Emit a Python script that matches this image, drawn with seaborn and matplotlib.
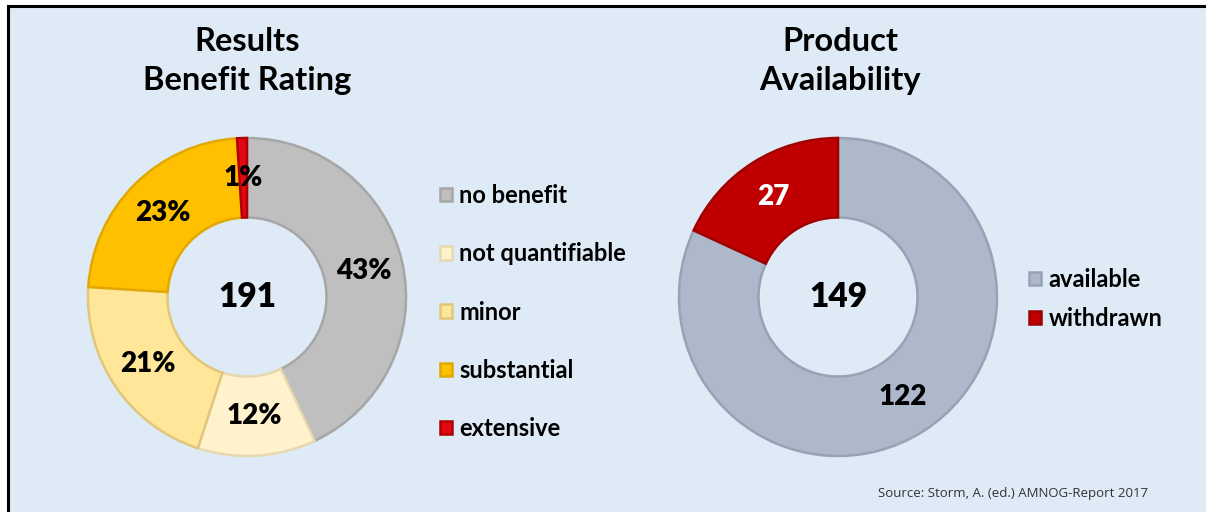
import matplotlib
matplotlib.use("Agg")
import matplotlib.pyplot as plt
from matplotlib.patches import Rectangle
import numpy as np
import seaborn as sns

# ---- data ----
benefit_categories = ["no benefit", "not quantifiable", "minor", "substantial", "extensive"]
benefit_percent = [43, 12, 21, 23, 1]
benefit_total = 191
benefit_colors = ["#BFBFBF", "#FFF2CC", "#FFE699", "#FFC000", "#E30613"]
benefit_edges = ["#A6A6A6", "#E6D9B0", "#E0C77A", "#E0A800", "#B00000"]

avail_categories = ["available", "withdrawn"]
avail_counts = [122, 27]
avail_total = 149
avail_colors = ["#ADB9CA", "#C00000"]
avail_edges = ["#97A3B5", "#A00000"]

titles = ["Results\nBenefit Rating", "Product\nAvailability"]
source_text = "Source: Storm, A. (ed.) AMNOG-Report 2017"

sns.set_theme(style="white")
plt.rcParams["font.family"] = ["Lato", "DejaVu Sans"]
plt.rcParams["text.color"] = "black"

W, H = 1206, 512
fig = plt.figure(figsize=(W / 100, H / 100), dpi=100)
fig.patch.set_facecolor("white")
bg = "#DEEAF6"
fig.patches.append(Rectangle((7.5 / W, -0.1), 1.2, (H - 5.5) / H + 0.1,
                             transform=fig.transFigure, facecolor=bg,
                             edgecolor="black", linewidth=2.2, zorder=-5))

R = 159
LIM = 1.125
side = 2 * LIM * R


def donut_axes(cx, cy):
    ax = fig.add_axes([(cx - side / 2) / W, (H - cy - side / 2) / H, side / W, side / H])
    ax.axis("off")
    ax.patch.set_alpha(0)
    ax.set_zorder(2)
    return ax


def fix_limits(ax):
    ax.set_xlim(-LIM, LIM)
    ax.set_ylim(-LIM, LIM)
    ax.set_aspect("equal")


# left donut
ax1 = donut_axes(247, 297)
w1, _ = ax1.pie(benefit_percent, colors=benefit_colors, startangle=90, counterclock=False,
                radius=1, wedgeprops=dict(width=0.5, linewidth=1.8))
fix_limits(ax1)
for w, ec in zip(w1, benefit_edges):
    w.set_edgecolor(ec)
cum = np.cumsum([0] + benefit_percent)
tot = sum(benefit_percent)
for i, p in enumerate(benefit_percent):
    mid = np.deg2rad(90 - 360 * (cum[i] + p / 2) / tot)
    ax1.text(0.75 * np.cos(mid), 0.75 * np.sin(mid), f"{p}%", ha="center", va="center",
             fontsize=20, fontweight="heavy", color="black")
ax1.text(0, 0, str(benefit_total), ha="center", va="center", fontsize=24, fontweight="heavy",
         color="black")

# right donut
ax2 = donut_axes(838, 297)
w2, _ = ax2.pie(avail_counts, colors=avail_colors, startangle=90, counterclock=False,
                radius=1, wedgeprops=dict(width=0.5, linewidth=1.8))
fix_limits(ax2)
for w, ec in zip(w2, avail_edges):
    w.set_edgecolor(ec)
cum2 = np.cumsum([0] + avail_counts)
tot2 = sum(avail_counts)
for i, v in enumerate(avail_counts):
    mid = np.deg2rad(90 - 360 * (cum2[i] + v / 2) / tot2)
    ax2.text(0.75 * np.cos(mid), 0.75 * np.sin(mid), str(v), ha="center", va="center",
             fontsize=20, fontweight="heavy", color="white" if i == 1 else "black")
ax2.text(0, 0, str(avail_total), ha="center", va="center", fontsize=24, fontweight="heavy",
         color="black")

# titles
fig.text(247 / W, 1 - 61 / H, titles[0], ha="center", va="center", fontsize=23.5,
         fontweight="bold", linespacing=1.4, color="black")
fig.text(840 / W, 1 - 61 / H, titles[1], ha="center", va="center", fontsize=23.5,
         fontweight="bold", linespacing=1.4, color="black")

# legends
leg1 = fig.legend(w1, benefit_categories, loc="center left",
                  bbox_to_anchor=(431 / W, 1 - 312 / H), frameon=False,
                  prop=dict(size=17, weight="bold"), handlelength=0.5, handleheight=0.5,
                  handletextpad=0.3, labelspacing=1.49, borderaxespad=0)
leg2 = fig.legend(w2, avail_categories, loc="center left",
                  bbox_to_anchor=(1020 / W, 1 - 299 / H), frameon=False,
                  prop=dict(size=17, weight="bold"), handlelength=0.5, handleheight=0.5,
                  handletextpad=0.3, labelspacing=0.67, borderaxespad=0)
for leg in (leg1, leg2):
    for t in leg.get_texts():
        t.set_color("black")

fig.text(878 / W, 1 - 493 / H, source_text, ha="left", va="center", fontsize=9.5,
         color="#333333", family=["Open Sans", "DejaVu Sans"])

fig.savefig("out.png", dpi=100, facecolor=fig.get_facecolor())
